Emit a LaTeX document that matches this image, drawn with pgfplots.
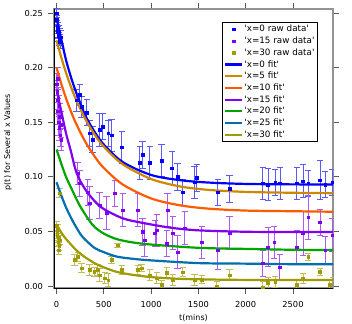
\documentclass[border=0pt]{standalone}
\usepackage{fontspec}
\setmainfont{DejaVu Sans}
\usepackage{pgfplots}
\pgfplotsset{compat=1.18}
\definecolor{cblue}{RGB}{0,0,255}
\definecolor{cgold}{RGB}{204,136,0}
\definecolor{cred}{RGB}{255,90,0}
\definecolor{cpurple}{RGB}{130,0,240}
\definecolor{cgreen}{RGB}{0,165,0}
\definecolor{cteal}{RGB}{0,110,175}
\definecolor{colive}{RGB}{160,155,0}
\newcommand\q{\textquotesingle}
\pgfplotsset{
  raw/.style={only marks, mark=square*, mark size=1.3bp, color=#1,
    error bars/.cd, y dir=both, y explicit,
    error bar style={#1!65, line width=0.8bp},
    error mark options={rotate=90, mark size=3.2bp, #1!65, line width=0.8bp}},
  fit/.style={no markers, smooth, line width=2.2bp, color=#1},
}
\begin{document}
\begin{tikzpicture}
\useasboundingbox (-54bp,-36bp) rectangle (298bp,288bp);
\begin{axis}[
  scale only axis, width=279bp, height=279bp,
  xmin=-27, xmax=2923, ymin=-0.0018, ymax=0.2537,
  xtick={0,500,1000,1500,2000,2500},
  ytick={0,0.05,0.1,0.15,0.2,0.25},
  scaled y ticks=false,
  yticklabel style={xshift=-1.5bp, /pgf/number format/.cd, fixed, fixed zerofill, precision=2},
  xticklabel style={yshift=-4bp},
  /pgf/number format/assume math mode=true,
  /pgf/number format/1000 sep={},
  tick align=outside,
  major tick length=6bp,
  every tick/.style={gray!70!black, line width=0.8bp},
  axis line style={gray!85, line width=1.8bp},
  tick label style={font=\fontsize{8.3}{9}\selectfont},
  label style={font=\fontsize{8}{9}\selectfont},
  xlabel={t(mins)},
  xlabel style={at={(axis description cs:0.5,-0.1075)}, anchor=center},
  ylabel={p(t) for Several x Values},
  ylabel style={at={(axis description cs:-0.165,0.523)}, anchor=center},
  legend cell align=left,
  legend style={at={(0.602,0.953)}, anchor=north west, draw=black,
    line width=0.6bp, font=\fontsize{8.8}{9}\selectfont, inner sep=2bp,
    row sep=1.7bp, nodes={inner sep=1bp, text height=6.5bp, text depth=1.5bp}},
]
% x=0 raw data
\addplot[raw=cblue] coordinates {
  (2,0.250) +- (0,0.004) (4,0.244) +- (0,0.004) (7,0.238) +- (0,0.005)
  (10,0.233) +- (0,0.005) (14,0.236) +- (0,0.005) (18,0.229) +- (0,0.005)
  (22,0.233) +- (0,0.006) (26,0.226) +- (0,0.006) (30,0.230) +- (0,0.006)
  (36,0.224) +- (0,0.006) (42,0.228) +- (0,0.006)
  (210,0.170) +- (0,0.010) (245,0.175) +- (0,0.010) (265,0.164) +- (0,0.010)
  (320,0.159) +- (0,0.012) (350,0.140) +- (0,0.012) (380,0.134) +- (0,0.012)
  (455,0.143) +- (0,0.015) (490,0.146) +- (0,0.012) (545,0.140) +- (0,0.012)
  (580,0.138) +- (0,0.015) (690,0.127) +- (0,0.015) (880,0.113) +- (0,0.015)
  (910,0.120) +- (0,0.012) (985,0.113) +- (0,0.015) (1110,0.115) +- (0,0.015)
  (1220,0.108) +- (0,0.015) (1280,0.100) +- (0,0.012) (1335,0.086) +- (0,0.012)
  (1460,0.095) +- (0,0.015) (1483,0.099) +- (0,0.012) (1705,0.086) +- (0,0.012)
  (1830,0.089) +- (0,0.012) (2180,0.094) +- (0,0.015) (2235,0.093) +- (0,0.015)
  (2310,0.095) +- (0,0.012) (2362,0.094) +- (0,0.015) (2540,0.094) +- (0,0.015)
  (2605,0.096) +- (0,0.015) (2660,0.094) +- (0,0.012) (2785,0.097) +- (0,0.018)
  (2840,0.093) +- (0,0.012) (2915,0.095) +- (0,0.012) };
\addlegendentry{\q x=0 raw data\q}
% x=15 raw data
\addplot[raw=cpurple] coordinates {
  (2,0.185) +- (0,0.010) (5,0.178) +- (0,0.010) (8,0.170) +- (0,0.012)
  (10,0.190) +- (0,0.010) (14,0.160) +- (0,0.012) (18,0.172) +- (0,0.010)
  (22,0.150) +- (0,0.012) (26,0.165) +- (0,0.010) (30,0.145) +- (0,0.012)
  (35,0.155) +- (0,0.012) (40,0.138) +- (0,0.010) (45,0.148) +- (0,0.012)
  (50,0.134) +- (0,0.010)
  (225,0.1035) +- (0,0.010) (245,0.094) +- (0,0.012) (330,0.086) +- (0,0.012)
  (350,0.076) +- (0,0.015) (455,0.074) +- (0,0.012) (530,0.067) +- (0,0.015)
  (615,0.085) +- (0,0.012) (700,0.0696) +- (0,0.015) (860,0.0696) +- (0,0.015)
  (910,0.0495) +- (0,0.012) (930,0.042) +- (0,0.015) (1040,0.0485) +- (0,0.012)
  (1060,0.051) +- (0,0.015) (1165,0.039) +- (0,0.012) (1175,0.0696) +- (0,0.015)
  (1230,0.0485) +- (0,0.015) (1280,0.031) +- (0,0.015) (1355,0.053) +- (0,0.015)
  (1535,0.040) +- (0,0.015) (1705,0.033) +- (0,0.018) (1830,0.0485) +- (0,0.015)
  (2180,0.021) +- (0,0.012) (2235,0.0357) +- (0,0.018) (2300,0.040) +- (0,0.015)
  (2360,0.0174) +- (0,0.012) (2540,0.0357) +- (0,0.015) (2605,0.0485) +- (0,0.020)
  (2660,0.063) +- (0,0.020) (2785,0.0586) +- (0,0.012) (2840,0.033) +- (0,0.012)
  (2915,0.0467) +- (0,0.015) };
\addlegendentry{\q x=15 raw data\q}
% x=30 raw data
\addplot[raw=colive] coordinates {
  (2,0.055) +- (0,0.004) (5,0.050) +- (0,0.004) (8,0.046) +- (0,0.004)
  (12,0.052) +- (0,0.004) (16,0.040) +- (0,0.004) (20,0.044) +- (0,0.004)
  (24,0.033) +- (0,0.004) (28,0.037) +- (0,0.004) (32,0.085) +- (0,0.004)
  (36,0.042) +- (0,0.004)
  (190,0.024) +- (0,0.005) (225,0.0266) +- (0,0.004) (265,0.0165) +- (0,0.004)
  (350,0.0147) +- (0,0.005) (400,0.013) +- (0,0.004) (435,0.0147) +- (0,0.005)
  (455,0.010) +- (0,0.006) (510,0.0073) +- (0,0.005) (545,0.0055) +- (0,0.006)
  (580,0.024) +- (0,0.003) (645,0.0375) +- (0,0.002) (690,0.0147) +- (0,0.004)
  (860,0.0147) +- (0,0.004) (900,0.0165) +- (0,0.003) (985,0.010) +- (0,0.005)
  (1060,0.0073) +- (0,0.005) (1110,0.001) +- (0,0.004) (1165,0.012) +- (0,0.005)
  (1230,0.0055) +- (0,0.005) (1335,0.0128) +- (0,0.004) (1460,0.0055) +- (0,0.005)
  (1535,0.006) +- (0,0.004) (1695,0.000) +- (0,0.004) (1830,0.010) +- (0,0.005)
  (2180,-0.001) +- (0,0.005) (2235,0.003) +- (0,0.005) (2310,0.004) +- (0,0.005)
  (2540,0.001) +- (0,0.005) (2605,0.007) +- (0,0.005) (2660,0.0266) +- (0,0.003)
  (2785,0.013) +- (0,0.003) (2890,0.001) +- (0,0.005) (2925,0.003) +- (0,0.005) };
\addlegendentry{\q x=30 raw data\q}
% fits
\addplot[fit=cblue] coordinates {
  (0,0.245) (50,0.226) (100,0.207) (150,0.192) (200,0.179) (300,0.157)
  (400,0.1415) (500,0.1295) (700,0.1135) (1000,0.1017) (1300,0.097)
  (1600,0.0948) (2000,0.0935) (2500,0.0931) (2950,0.093) };
\addlegendentry{\q x=0 fit\q}
\addplot[fit=cgold] coordinates {
  (0,0.225) (50,0.2093) (100,0.1953) (150,0.183) (200,0.172) (300,0.1536)
  (400,0.139) (500,0.1276) (700,0.1115) (1000,0.098) (1300,0.0913)
  (1600,0.0881) (2000,0.0862) (2500,0.0854) (2950,0.085) };
\addlegendentry{\q x=5 fit\q}
\addplot[fit=cred] coordinates {
  (0,0.200) (50,0.1852) (100,0.172) (150,0.1604) (200,0.150) (300,0.1327)
  (400,0.119) (500,0.1081) (700,0.093) (1000,0.0802) (1300,0.074)
  (1600,0.0709) (2000,0.0691) (2500,0.0685) (2950,0.068) };
\addlegendentry{\q x=10 fit\q}
\addplot[fit=cpurple] coordinates {
  (0,0.180) (50,0.160) (100,0.140) (150,0.124) (212,0.1035) (300,0.089)
  (400,0.078) (500,0.0705) (700,0.062) (900,0.058) (1200,0.0535)
  (1500,0.051) (2000,0.0497) (2500,0.0495) (2950,0.0494) };
\addlegendentry{\q x=15 fit\q}
\addplot[fit=cgreen] coordinates {
  (0,0.125) (50,0.112) (100,0.100) (170,0.087) (250,0.073) (381,0.056)
  (500,0.048) (635,0.043) (800,0.040) (1000,0.038) (1500,0.035)
  (2000,0.034) (2500,0.0332) (2950,0.033) };
\addlegendentry{\q x=20 fit\q}
\addplot[fit=cteal] coordinates {
  (0,0.095) (50,0.083) (100,0.072) (150,0.063) (200,0.055) (275,0.045)
  (400,0.035) (500,0.031) (635,0.027) (800,0.025) (1000,0.0235)
  (1500,0.021) (2000,0.0205) (2500,0.020) (2950,0.020) };
\addlegendentry{\q x=25 fit\q}
\addplot[fit=colive] coordinates {
  (0,0.056) (50,0.049) (100,0.0431) (200,0.0336) (275,0.028) (400,0.021)
  (500,0.0171) (635,0.013) (800,0.0103) (1000,0.0082) (1300,0.0066)
  (1600,0.006) (2000,0.0056) (2500,0.0055) (2950,0.0055) };
\addlegendentry{\q x=30 fit\q}
\draw[black, line width=0.9bp] (rel axis cs:0,1) -- (rel axis cs:0,0) -- (rel axis cs:1,0);
\end{axis}
\end{tikzpicture}
\end{document}
